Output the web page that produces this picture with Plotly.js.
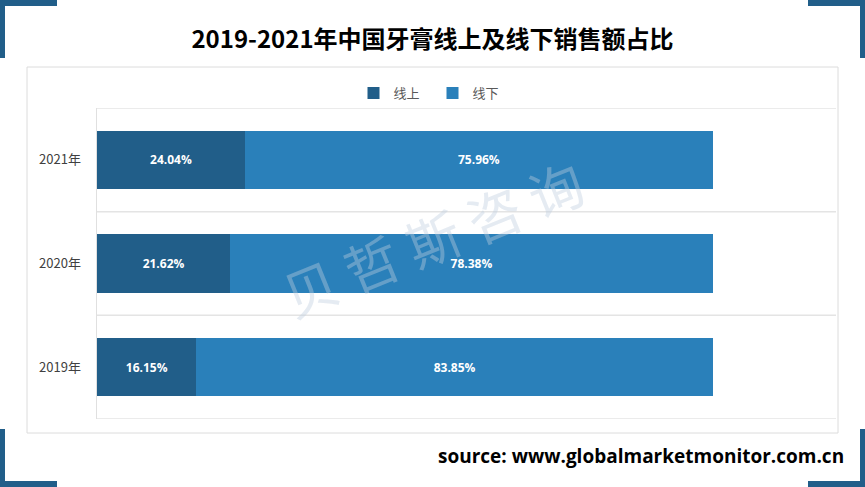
<!DOCTYPE html>
<html>
<head>
<meta charset="utf-8">
<script src="https://cdn.plot.ly/plotly-3.0.1.min.js"></script>
<style>html,body{margin:0;padding:0;background:#fff;}#chart{width:865px;height:487px;}</style>
</head>
<body>
<div id="chart"></div>
<script>
const years = ['2019年', '2020年', '2021年'];
const online = [16.15, 21.62, 24.04];
const offline = [83.85, 78.38, 75.96];
const seriesNames = ['线上', '线下'];
const colors = ['#215e89', '#2a80ba'];

const W = 865, H = 487;
const px = v => v / W;
const py = v => 1 - v / H;

const traces = [
  {type: 'bar', orientation: 'h', name: seriesNames[0], y: years, x: online,
   marker: {color: colors[0]}, texttemplate: '%{x:.2f}%', textposition: 'inside',
   insidetextanchor: 'middle', textfont: {color: '#ffffff', size: 12, family: 'Open Sans', weight: 'bold'},
   hoverinfo: 'none'},
  {type: 'bar', orientation: 'h', name: seriesNames[1], y: years, x: offline,
   marker: {color: colors[1]}, texttemplate: '%{x:.2f}%', textposition: 'inside',
   insidetextanchor: 'middle', textfont: {color: '#ffffff', size: 12, family: 'Open Sans', weight: 'bold'},
   hoverinfo: 'none'}
];

const bracket = '#215e89';
const shapes = [
  {type: 'rect', xref: 'paper', yref: 'paper', x0: px(27), x1: px(838), y0: py(433), y1: py(67),
   line: {color: '#dcdcdc', width: 1}, fillcolor: 'rgba(0,0,0,0)', layer: 'below'},
  {type: 'rect', xref: 'paper', yref: 'paper', x0: 0, x1: px(57), y0: py(6), y1: 1, line: {width: 0}, fillcolor: bracket},
  {type: 'rect', xref: 'paper', yref: 'paper', x0: 0, x1: px(5), y0: py(58), y1: 1, line: {width: 0}, fillcolor: bracket},
  {type: 'rect', xref: 'paper', yref: 'paper', x0: px(808), x1: 1, y0: py(6), y1: 1, line: {width: 0}, fillcolor: bracket},
  {type: 'rect', xref: 'paper', yref: 'paper', x0: px(860), x1: 1, y0: py(58), y1: 1, line: {width: 0}, fillcolor: bracket},
  {type: 'rect', xref: 'paper', yref: 'paper', x0: 0, x1: px(57), y0: 0, y1: py(481), line: {width: 0}, fillcolor: bracket},
  {type: 'rect', xref: 'paper', yref: 'paper', x0: 0, x1: px(5), y0: 0, y1: py(429), line: {width: 0}, fillcolor: bracket},
  {type: 'rect', xref: 'paper', yref: 'paper', x0: px(808), x1: 1, y0: 0, y1: py(481), line: {width: 0}, fillcolor: bracket},
  {type: 'rect', xref: 'paper', yref: 'paper', x0: px(860), x1: 1, y0: 0, y1: py(429), line: {width: 0}, fillcolor: bracket}
];
for (let i = 0; i <= years.length; i++) {
  shapes.push({type: 'line', xref: 'x domain', yref: 'y', x0: 0, x1: 1, y0: i - 0.5, y1: i - 0.5,
    line: {color: '#e4e4e4', width: 1.5}, layer: 'below'});
}

const layout = {
  width: W, height: H,
  margin: {l: 0, r: 0, t: 0, b: 0},
  paper_bgcolor: '#ffffff', plot_bgcolor: '#ffffff',
  barmode: 'stack', bargap: 0.44,
  showlegend: true,
  legend: {orientation: 'h', traceorder: 'normal', x: 0.5, xanchor: 'center', y: py(93), yanchor: 'middle',
    font: {family: 'Noto Sans CJK SC', size: 13, color: '#595959'}, itemwidth: 30, tracegroupgap: 0,
    entrywidth: 34},
  title: {text: '2019-2021年中国牙膏线上及线下销售额占比', x: 0.5, xanchor: 'center', y: py(40), yanchor: 'middle',
    font: {family: 'Noto Sans CJK SC', size: 24, color: '#000000', weight: 'bold'}},
  xaxis: {domain: [px(97), px(836)], range: [0, 120], showgrid: false, zeroline: false,
    showticklabels: false, showline: false, fixedrange: true},
  yaxis: {domain: [py(419), py(108)], type: 'category', categoryorder: 'array', categoryarray: years,
    range: [-0.5, 2.5], showgrid: false, zeroline: false, showline: true, linecolor: '#e0e0e0', linewidth: 1.5,
    ticks: 'outside', ticklen: 12, tickcolor: 'rgba(0,0,0,0)',
    tickfont: {family: 'Noto Sans CJK SC', size: 13, color: '#404040'}, fixedrange: true},
  shapes: shapes,
  annotations: [
    {text: 'source: www.globalmarketmonitor.com.cn', xref: 'paper', yref: 'paper', x: px(846), xanchor: 'right',
     y: py(456), yanchor: 'middle', showarrow: false,
     font: {family: 'Open Sans', size: 19, color: '#000000', weight: 'bold'}},
    {text: '贝 哲 斯 咨 询', xref: 'paper', yref: 'paper', x: px(432), y: py(237), xanchor: 'center', yanchor: 'middle',
     showarrow: false, textangle: -22,
     font: {family: 'Noto Sans CJK SC', size: 54, color: 'rgba(190,205,222,0.4)'}}
  ]
};

Plotly.newPlot('chart', traces, layout, {displayModeBar: false, staticPlot: true});
</script>
</body>
</html>
